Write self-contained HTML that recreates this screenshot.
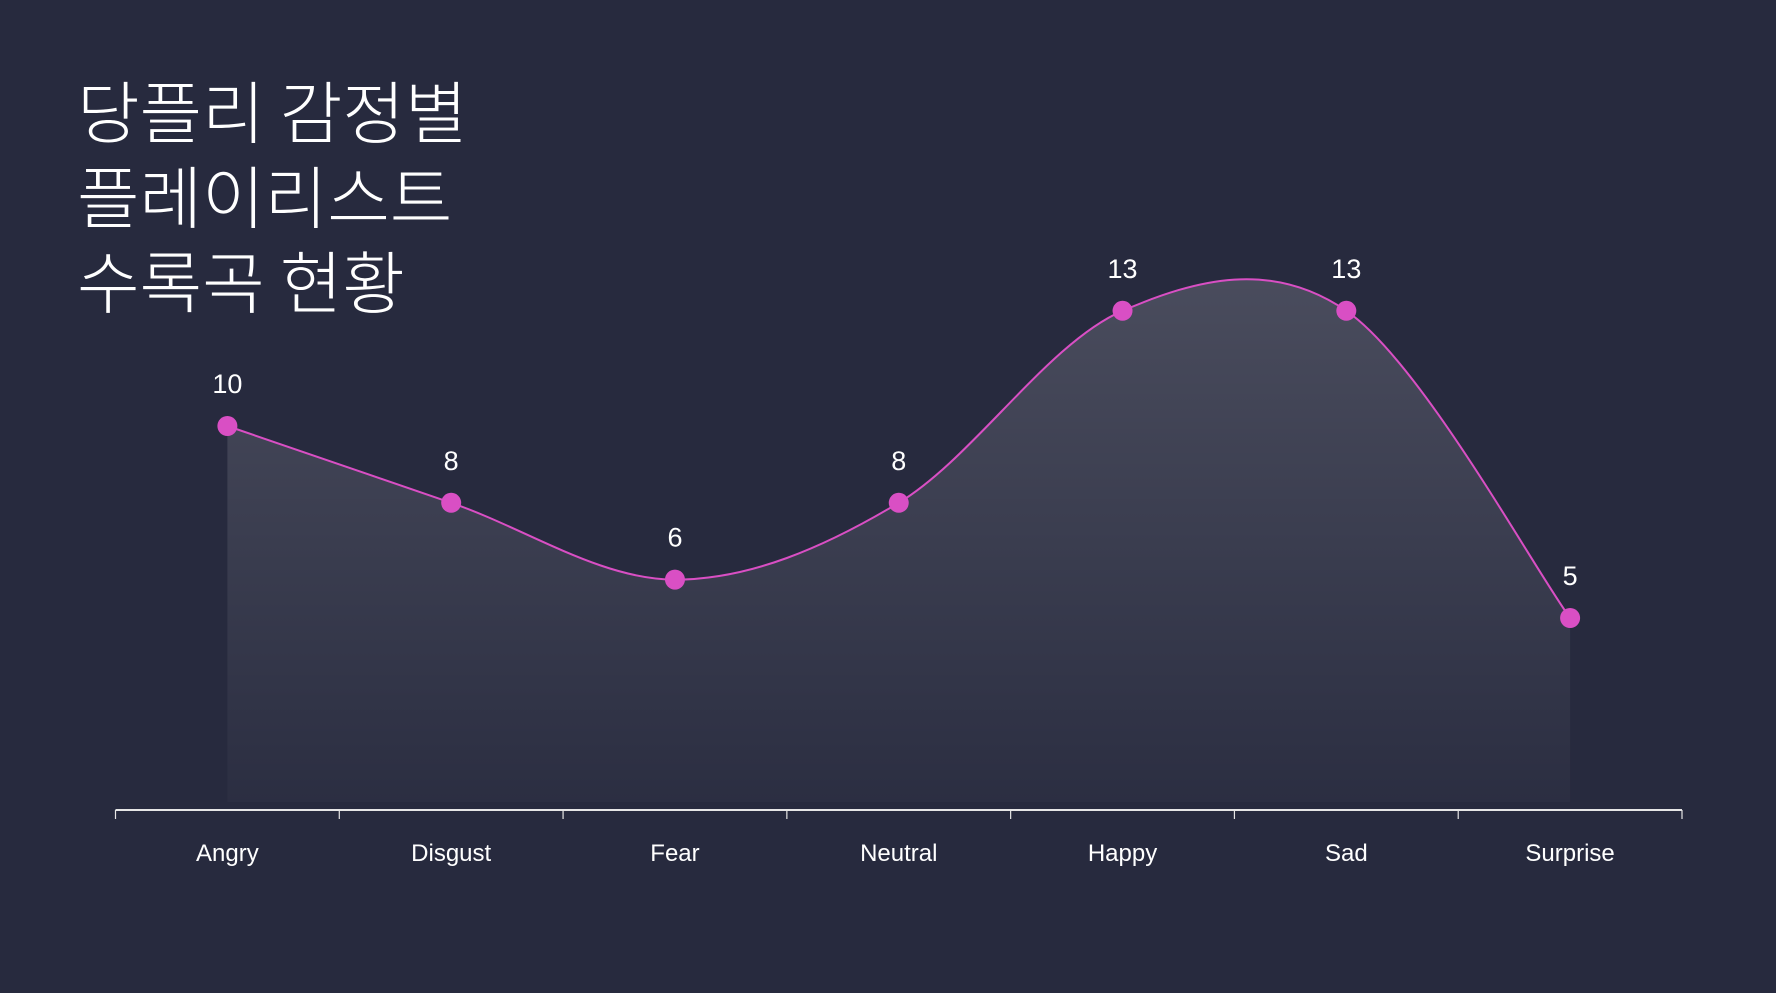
<!DOCTYPE html>
<html><head><meta charset="utf-8">
<style>
html,body{margin:0;padding:0;background:#272a3e;}
body{width:1776px;height:993px;overflow:hidden;position:relative;font-family:"Liberation Sans","Noto Sans CJK KR",sans-serif;}
#title{position:absolute;left:77px;top:66px;color:#fff;font-family:"Noto Sans CJK KR","Liberation Sans",sans-serif;font-size:68px;line-height:85px;font-weight:300;margin:0;}
svg{position:absolute;left:0;top:0;}
</style></head>
<body>
<h1 id="title">당플리 감정별<br>플레이리스트<br>수록곡 현황</h1>
<svg id="chart" width="1776" height="993">
<defs><linearGradient id="fillGrad" x1="0" y1="0" x2="0" y2="1">
<stop offset="0" stop-color="#ffffff" stop-opacity="0.16"/>
<stop offset="1" stop-color="#ffffff" stop-opacity="0.02"/>
</linearGradient></defs>
</svg>
<script>
const categories=["Angry","Disgust","Fear","Neutral","Happy","Sad","Surprise"];
const values=[10,8,6,8,13,13,5];
const valueLabels=["10","8","6","8","13","13","5"];

const NS="http://www.w3.org/2000/svg";
const svg=document.getElementById('chart');
const axisLeft=115.5, axisRight=1682, axisY=810, unit=38.4;
const step=(axisRight-axisLeft)/categories.length;
function x(i){return axisLeft+step*(i+0.5);}
function y(v){return axisY-v*unit;}
function mk(t,a){const e=document.createElementNS(NS,t);for(const k in a)e.setAttribute(k,a[k]);svg.appendChild(e);return e;}
const pts=values.map((v,i)=>[x(i),y(v)]);
let d="M"+pts[0][0]+","+pts[0][1];
for(let i=0;i<pts.length-1;i++){
 const p0=pts[Math.max(0,i-1)],p1=pts[i],p2=pts[i+1],p3=pts[Math.min(pts.length-1,i+2)];
 const c1=[p1[0]+(p2[0]-p0[0])/6,p1[1]+(p2[1]-p0[1])/6];
 const c2=[p2[0]-(p3[0]-p1[0])/6,p2[1]-(p3[1]-p1[1])/6];
 d+=" C"+c1[0]+","+c1[1]+" "+c2[0]+","+c2[1]+" "+p2[0]+","+p2[1];
}
const area=mk('path',{d:d+" L"+pts[pts.length-1][0]+","+(axisY-8)+" L"+pts[0][0]+","+(axisY-8)+" Z",fill:"url(#fillGrad)"});


const line=mk('path',{d:d,fill:"none",stroke:"#d94fc4","stroke-width":2});


const ax=mk('line',{x1:axisLeft,x2:axisRight,y1:axisY,y2:axisY,stroke:"#e6e6e6","stroke-width":2});


for(let i=0;i<=categories.length;i++){
 const tx=axisLeft+step*i;
 const t=mk('line',{x1:tx,x2:tx,y1:axisY,y2:axisY+9,stroke:"#e6e6e6","stroke-width":1.2});
 
 
}
categories.forEach((c,i)=>{
 const t=mk('text',{x:x(i),y:861,"text-anchor":"middle",fill:"#fff","font-size":24});
 t.textContent=c;
 
 
});
pts.forEach((p,i)=>{
 const c=mk('circle',{cx:p[0],cy:p[1],r:10,fill:"#d94fc4"});
 
 
 const t=mk('text',{x:p[0],y:p[1]-33,"text-anchor":"middle",fill:"#fff","font-size":27});
 t.textContent=valueLabels[i];
 
 
});
</script>
</body></html>
